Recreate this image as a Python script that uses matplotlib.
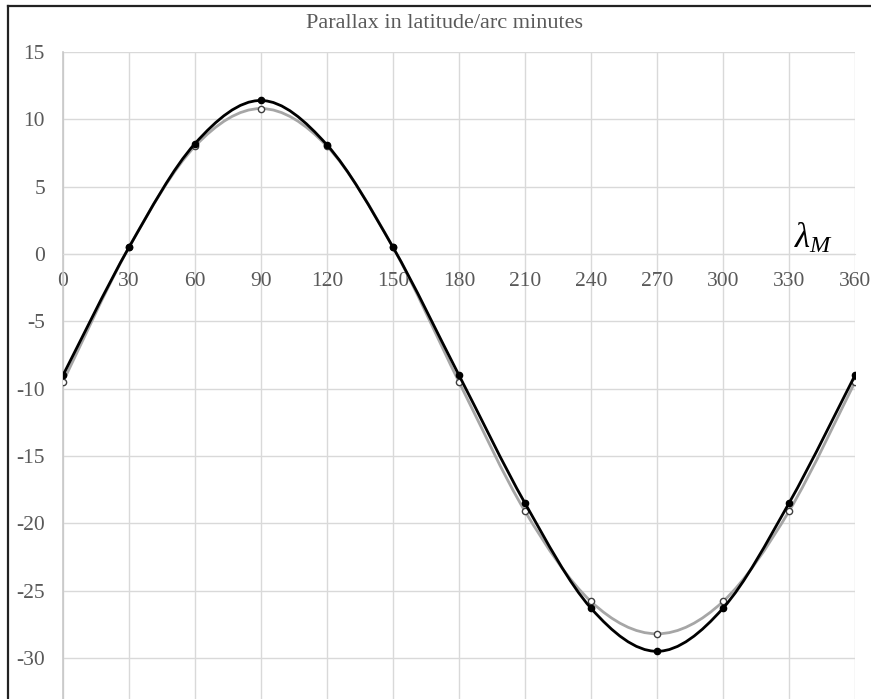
import numpy as np
import matplotlib
matplotlib.use('Agg')
from matplotlib import pyplot as plt
from matplotlib.path import Path
from matplotlib.patches import PathPatch
from matplotlib.lines import Line2D

plt.rcParams['font.family'] = ['Liberation Serif', 'DejaVu Serif']
plt.rcParams['mathtext.fontset'] = 'custom'
plt.rcParams['mathtext.rm'] = 'Liberation Serif'
plt.rcParams['mathtext.it'] = 'Liberation Serif:italic'
plt.rcParams['axes.unicode_minus'] = False

# data
lon = [0, 30, 60, 90, 120, 150, 180, 210, 240, 270, 300, 330, 360]
par_black = [-9.0, 0.5, 8.2, 11.4, 8.1, 0.5, -9.0, -18.5, -26.3, -29.5, -26.3, -18.5, -9.0]
par_gray = [-9.5, 0.5, 8.0, 10.8, 8.0, 0.5, -9.5, -19.1, -25.8, -28.2, -25.8, -19.1, -9.5]
xticks = list(range(0, 361, 30))
yticks = list(range(-30, 16, 5))

def smooth_path(xs, ys):
    # Excel-like smoothed line: cubic bezier with catmull-rom control points
    p = np.column_stack([xs, ys]).astype(float)
    verts = [p[0]]
    codes = [Path.MOVETO]
    n = len(p)
    for i in range(n - 1):
        p0 = p[i - 1] if i > 0 else p[i]
        p3 = p[i + 2] if i + 2 < n else p[i + 1]
        c1 = p[i] + (p[i + 1] - p0) / 6
        c2 = p[i + 1] - (p3 - p[i]) / 6
        verts += [c1, c2, p[i + 1]]
        codes += [Path.CURVE4] * 3
    return Path(verts, codes)

fig = plt.figure(figsize=(8.71, 6.99), dpi=100)
ax = fig.add_axes([63 / 871, 0, 792 / 871, 647 / 699])
ax.set_xlim(0, 360)
ax.set_ylim(-33.04, 15)

ax.add_patch(PathPatch(smooth_path(lon, par_gray), fill=False, edgecolor='#a6a6a6', lw=2.0, zorder=3))
ax.plot(lon, par_gray, 'o', ms=4.5, mfc='white', mec='#404040', mew=1.0, zorder=4)
ax.add_patch(PathPatch(smooth_path(lon, par_black), fill=False, edgecolor='black', lw=2.0, zorder=5))
ax.plot(lon, par_black, 'o', ms=4.5, color='black', zorder=6)

ax.set_xticks(xticks)
ax.set_yticks(yticks)
ax.grid(True, color='#d9d9d9', lw=1.0)
ax.set_axisbelow(True)
for s in ['top', 'right']:
    ax.spines[s].set_visible(False)
ax.spines['bottom'].set_position(('data', 0))
ax.spines['bottom'].set_color('#d9d9d9')
ax.spines['left'].set_color('#c8c8c8')
ax.spines['left'].set_linewidth(1.2)
ax.tick_params(axis='x', length=0, pad=13, labelsize=15.5, labelcolor='#595959')
ax.tick_params(axis='y', length=0, pad=13, labelsize=15.5, labelcolor='#595959')

ax.text(341, 1.1, r'$\lambda_M$', fontsize=25, ha='center', va='center', color='black')
fig.text(445 / 871, 1 - 23 / 699, 'Parallax in latitude/arc minutes', fontsize=16,
         ha='center', va='center', color='#595959')

# outer chart frame (left and top edges visible)
fig.add_artist(Line2D([8 / 871, 8 / 871], [0, 1 - 6 / 699], color='#222222', lw=1.6))
fig.add_artist(Line2D([8 / 871, 1], [1 - 6 / 699, 1 - 6 / 699], color='#222222', lw=1.6))

fig.savefig('out.png', dpi=100)
